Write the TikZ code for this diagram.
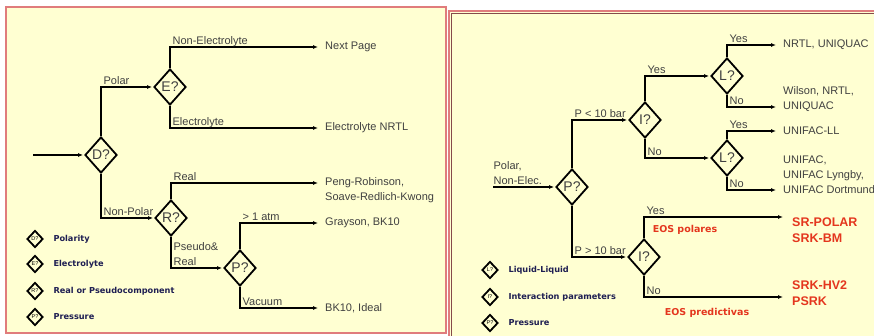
\documentclass[tikz,border=0pt]{standalone}
\usepackage{fontspec}
\setmainfont{Liberation Sans}
\newfontfamily\legendfont{DejaVu Sans}
\usetikzlibrary{arrows.meta,shapes.geometric}
\definecolor{paper}{HTML}{FFFFD2}
\definecolor{frame}{HTML}{E07C7C}
\definecolor{ink}{HTML}{404040}
\definecolor{navy}{HTML}{1E1E52}
\definecolor{eosred}{HTML}{E4361E}

\begin{document}
\begin{tikzpicture}[x=1pt,y=-1pt,>={Latex[length=5pt,width=4pt]},
  font=\fontsize{11}{15}\selectfont,
  dec/.style={diamond,draw,line width=1.8pt,minimum width=32pt,
    minimum height=36pt,inner sep=0pt,text=ink,font=\fontsize{14}{14}\selectfont},
  key/.style={diamond,draw,line width=1.8pt,minimum width=16pt,
    minimum height=17pt,inner sep=0pt,font=\fontsize{5.5}{5.5}\selectfont},
  keytext/.style={anchor=west,text=navy,
    font=\legendfont\bfseries\fontsize{8.2}{9}\selectfont},
  flow/.style={->,line width=1.3pt,shorten >=4pt},
  lab/.style={anchor=base west,text=ink,inner sep=0pt,xshift=2pt,yshift=2.5pt},
  term/.style={anchor=west,align=left,text=ink,inner sep=3pt},
  eos/.style={term,text=eosred,font=\bfseries\fontsize{12.5}{16}\selectfont},
  eosnote/.style={text=eosred,font=\legendfont\bfseries\fontsize{9.5}{11}\selectfont}]
  \useasboundingbox (0,0) rectangle (874,336);

  % panels
  \begin{scope}
    \clip (0,0) rectangle (874,336);
    \fill[paper] (6,7) rectangle (446,333);
    \draw[frame,line width=1.6pt] (6,7) rectangle (446,333);
    \fill[paper] (449,11) rectangle (890,350);
    \draw[frame,line width=2.2pt] (449,11) rectangle (890,350);
    \draw[frame!60!black,line width=0.5pt] (451.5,13.5) rectangle (890,350);
  \end{scope}

  % ---- left panel: polarity tree ----
  \coordinate (in1) at (33,155);
  \node[dec] (D) at (101,155) {D?};
  \node[dec] (E) at (170,87) {E?};
  \node[dec] (R) at (171,218) {R?};
  \node[dec] (P) at (240,268) {P?};

  \node[term] (next) at (322,47) {Next Page};
  \node[term] (enrtl) at (322,128) {Electrolyte NRTL};
  \node[term] (pr) at (322,190.5) {Peng-Robinson,\\Soave-Redlich-Kwong};
  \node[term] (gray) at (322,223) {Grayson, BK10};
  \node[term] (ideal) at (322,308) {BK10, Ideal};

  \draw[flow,shorten >=1pt] (in1) -- (D.west);
  \draw[flow,shorten >=1pt] (D.north) |- node[lab,pos=0.5] (lpol) {Polar} (E.west);
  \draw[flow,shorten >=1pt] (D.south) |- node[lab,pos=0.5] (lnpol) {Non-Polar} (R.west);
  \draw[flow] (E.north) |- node[lab,pos=0.5] (lnel) {Non-Electrolyte} (next.west);
  \draw[flow] (E.south) |- node[lab,pos=0.5] (lel) {Electrolyte} (enrtl.west);
  \draw[flow] (R.north) |- node[lab,pos=0.5] (lreal) {Real} ([yshift=7.5pt]pr.west);
  \draw[flow,shorten >=1pt] (R.south) |- node[lab,pos=0.5,align=left] (lpseudo)
    {Pseudo\&\\Real} (P.west);
  \draw[flow] (P.north) |- node[lab,pos=0.5] (latm) {> 1 atm} (gray.west);
  \draw[flow] (P.south) |- node[lab,pos=0.5] (lvac) {Vacuum} (ideal.west);

  % legend
  \node[key] (kD) at (35,239) {D?};
  \node[key] (kE) at (35,264) {E?};
  \node[key] (kR) at (35,291) {R?};
  \node[key] (kP) at (35,317) {P?};
  \node[keytext] (tD) at (50,239) {Polarity};
  \node[keytext] (tE) at (50,264) {Electrolyte};
  \node[keytext] (tR) at (50,291) {Real or Pseudocomponent};
  \node[keytext] (tP) at (50,317) {Pressure};

  % ---- right panel: polar, non-electrolyte ----
  \coordinate (in2) at (493,187);
  \node[dec] (P2) at (572,187) {P?};
  \node[dec] (I1) at (645,120) {I?};
  \node[dec] (L1) at (727,76) {L?};
  \node[dec] (L2) at (727,158) {L?};
  \node[dec] (I2) at (644,257) {I?};

  \node[term] (nrtl) at (780,45) {NRTL, UNIQUAC};
  \node[term] (wil) at (780,99.5) {Wilson, NRTL,\\UNIQUAC};
  \node[term] (ufll) at (780,131) {UNIFAC-LL};
  \node[term] (uf) at (780,175) {UNIFAC,\\UNIFAC Lyngby,\\UNIFAC Dortmund};
  \node[eos] (srp) at (789,230) {SR-POLAR\\SRK-BM};
  \node[eos] (srk) at (789,293.5) {SRK-HV2\\PSRK};

  \draw[flow,shorten >=1pt] (in2) -- node[lab,pos=0,align=left,xshift=-2pt] (lin)
    {Polar,\\Non-Elec.} (P2.west);
  \draw[flow,shorten >=1pt] (P2.north) |- node[lab,pos=0.5] (llow) {P < 10 bar} (I1.west);
  \draw[flow,shorten >=1pt] (P2.south) |- node[lab,pos=0.5] (lhigh) {P > 10 bar} (I2.west);
  \draw[flow,shorten >=1pt] (I1.north) |- node[lab,pos=0.5] (ly1) {Yes} (L1.west);
  \draw[flow,shorten >=1pt] (I1.south) |- node[lab,pos=0.5] (ln1) {No} (L2.west);
  \draw[flow] (L1.north) |- node[lab,pos=0.5] (ly2) {Yes} (nrtl.west);
  \draw[flow] (L1.south) |- node[lab,pos=0.5] (ln2) {No} ([yshift=-7.5pt]wil.west);
  \draw[flow] (L2.north) |- node[lab,pos=0.5] (ly3) {Yes} (ufll.west);
  \draw[flow] (L2.south) |- node[lab,pos=0.5] (ln3) {No} ([yshift=-15pt]uf.west);
  \draw[flow,shorten >=6pt] (I2.north) |- node[lab,pos=0.5] (ly4) {Yes} ([yshift=13pt]srp.west);
  \draw[flow,shorten >=6pt] (I2.south) |- node[lab,pos=0.5] (ln4) {No} ([yshift=-3.5pt]srk.west);
  \node[eosnote] (npol) at (685,230) {EOS polares};
  \node[eosnote] (npred) at (707,313) {EOS predictivas};

  % legend
  \node[key] (kL) at (490,270) {L?};
  \node[key] (kI) at (490,297) {I?};
  \node[key] (kP2) at (490,323) {P?};
  \node[keytext] (tL) at (505,270) {Liquid-Liquid};
  \node[keytext] (tI) at (505,297) {Interaction parameters};
  \node[keytext] (tP2) at (505,323) {Pressure};
\end{tikzpicture}
\end{document}
